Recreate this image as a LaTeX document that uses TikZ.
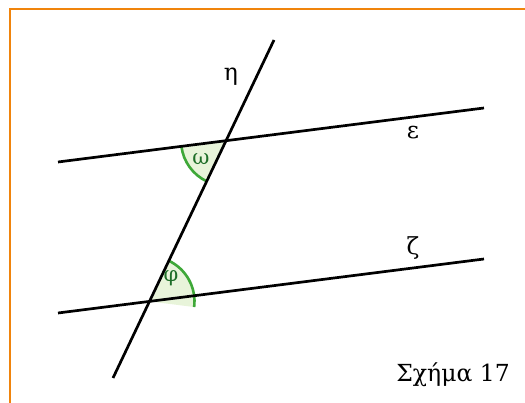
\documentclass[tikz,border=0pt]{standalone}
\usepackage{fontspec}
\setmainfont{DejaVu Serif}
\usetikzlibrary{intersections}
\definecolor{frameorange}{RGB}{240,132,12}
\definecolor{arcgreen}{RGB}{62,168,56}
\definecolor{fillgreen}{RGB}{232,244,218}
\definecolor{labgreen}{RGB}{30,110,40}
\begin{document}
\begin{tikzpicture}[x=1pt,y=1pt,
  gline/.style={line width=2.7pt,black},
  anglefill/.style={fill=fillgreen,draw=none},
  anglearc/.style={draw=arcgreen,line width=2.6pt},
  lab/.style={font=\fontsize{23.5}{26}\selectfont,inner sep=0pt},
  anglab/.style={font=\fontsize{21}{24}\selectfont,text=labgreen,inner sep=0pt}]
\useasboundingbox (0,0) rectangle (525,403);
\draw[frameorange,line width=2.8pt] (10,394) rectangle (540,-10);
% endpoints
\coordinate (E1) at (58,241);
\coordinate (E2) at (484,295);
\coordinate (Z1) at (58,90);
\coordinate (Z2) at (484,144);
\coordinate (H1) at (113,25);
\coordinate (H2) at (274,363);
\path[name path=eps] (E1) -- (E2);
\path[name path=zeta] (Z1) -- (Z2);
\path[name path=eta] (H1) -- (H2);
\path[name intersections={of=eps and eta,by=A}];
\path[name intersections={of=zeta and eta,by=B}];
% angle fills
\fill[anglefill] (A) -- ++(187.2:45pt) arc[start angle=187.2,end angle=244.5,radius=45pt] -- cycle;
\fill[anglefill] (B) -- ++(-7.2:45pt) arc[start angle=-7.2,end angle=64.5,radius=45pt] -- cycle;
\draw[anglearc] (A) ++(187.2:45pt) arc[start angle=187.2,end angle=244.5,radius=45pt];
\draw[anglearc] (B) ++(-7.2:45pt) arc[start angle=-7.2,end angle=64.5,radius=45pt];
% lines
\draw[gline] (E1) -- (E2);
\draw[gline] (Z1) -- (Z2);
\draw[gline] (H1) -- (H2);
% labels
\node[lab] (leta) at (231,326) {η};
\node[lab] (leps) at (413,270) {ε};
\node[lab] (lzeta) at (413,155) {ζ};
\node[lab,anchor=base east] (cap) at (510,21) {Σχήμα 17};
\node[anglab] (lom) at (201,244) {ω};
\node[anglab] (lphi) at (171,125) {φ};
\end{tikzpicture}
\end{document}
